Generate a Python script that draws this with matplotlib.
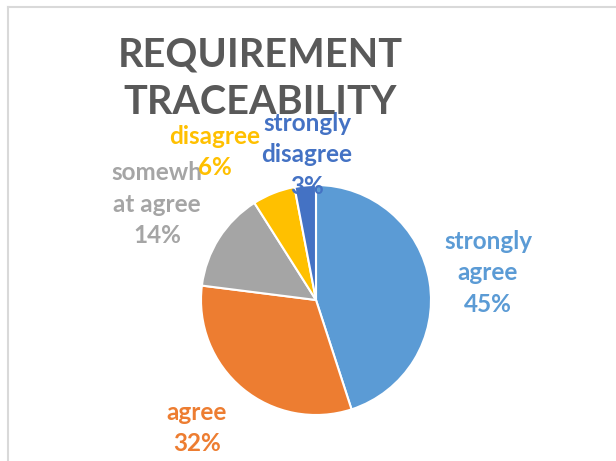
import matplotlib
matplotlib.use("Agg")
import matplotlib.pyplot as plt
from matplotlib.lines import Line2D

categories = ["strongly agree", "agree", "somewhat agree", "disagree", "strongly disagree"]
values = [45, 32, 14, 6, 3]
label_texts = ["strongly\nagree\n45%", "agree\n32%", "somewh\nat agree\n14%", "disagree\n6%", "strongly\ndisagree\n3%"]
colors = ["#5B9BD5", "#ED7D31", "#A5A5A5", "#FFC000", "#4472C4"]
title = "REQUIREMENT\nTRACEABILITY"

W, H = 616, 461
fig = plt.figure(figsize=(W / 100, H / 100), dpi=100)
fig.patch.set_facecolor("white")
ax = fig.add_axes([0, 0, 1, 1])

# border
fig.add_artist(Line2D([7.5 / W, 1], [1 - 7 / H, 1 - 7 / H], color="#D9D9D9", lw=1.5, transform=fig.transFigure))
fig.add_artist(Line2D([7.5 / W, 7.5 / W], [0, 1 - 7 / H], color="#D9D9D9", lw=1.5, transform=fig.transFigure))

ax.pie(values, colors=colors, startangle=90, counterclock=False,
       center=(316, H - 300), radius=115,
       wedgeprops=dict(edgecolor="white", linewidth=1.5))
ax.set_xlim(0, W)
ax.set_ylim(0, H)
ax.set_aspect("equal")
ax.axis("off")

font = "Lato"
label_pos = [(488, 273), (197, 428), (157, 204), (215, 152), (307, 155)]
for txt, (x, y), c in zip(label_texts, label_pos, colors):
    ax.text(x, H - y, txt, ha="center", va="center", color=c, fontsize=17.5,
            fontweight="bold", family=font, linespacing=1.45)

ax.text(260, H - 79, title, ha="center", va="center", color="#595959",
        fontsize=28.5, fontweight="bold", family=font, linespacing=1.35, zorder=10)

fig.savefig("out.png", dpi=100)
